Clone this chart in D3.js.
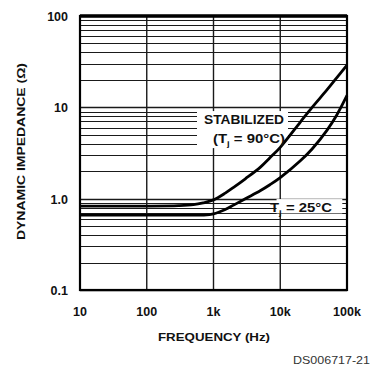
<!DOCTYPE html>
<html>
<head>
<meta charset="utf-8">
<script src="https://cdn.jsdelivr.net/npm/d3@7"></script>
<style>
  body { margin: 0; background: #fff; }
  svg { display: block; }
  text { font-family: 'Liberation Sans', Arial, Helvetica, sans-serif; }
</style>
</head>
<body>
<div id="chart"></div>
<script>
// values
const xTicks = [10, 100, 1000, 10000, 100000];
const xTickLabels = ['10', '100', '1k', '10k', '100k'];
const yTicks = [0.1, 1, 10, 100];
const yTickLabels = ['0.1', '1.0', '10', '100'];

const freq = [10, 100, 300, 500, 700, 1000, 1500, 2000, 3000, 5000, 7000, 10000, 20000, 30000, 50000, 70000, 100000];
const stabilized = [0.83, 0.83, 0.84, 0.86, 0.9, 0.97, 1.15, 1.33, 1.65, 2.2, 2.8, 3.65, 6.9, 10, 15.5, 21, 29];
const tj25 = [0.66, 0.66, 0.66, 0.66, 0.66, 0.68, 0.76, 0.85, 1.0, 1.22, 1.42, 1.7, 2.6, 3.5, 5.6, 8.2, 13.5];

const width = 371, height = 367;
const margin = {top: 16, right: 24, bottom: 77, left: 80};
const cWidth = width - margin.left - margin.right;
const cHeight = height - margin.top - margin.bottom;

const svg = d3.select('#chart').append('svg')
    .attr('width', width)
    .attr('height', height);

const g = svg.append('g').attr('transform', `translate(${margin.left},${margin.top})`);

const x = d3.scaleLog().domain([10, 100000]).range([0, cWidth]);
const y = d3.scaleLog().domain([0.1, 100]).range([cHeight, 0]);

// horizontal grid: 1..9 in every decade
let hLines = [];
[0.1, 1, 10].forEach(d => {
    for (let k = 1; k < 10; k++) hLines.push(+(d * k).toPrecision(3));
});

g.append('g')
    .selectAll('line')
    .data(hLines)
    .enter().append('line')
        .attr('x1', 0)
        .attr('x2', cWidth)
        .attr('y1', d => Math.round(y(d)) + 0.5)
        .attr('y2', d => Math.round(y(d)) + 0.5)
        .attr('stroke', '#1a1a1a')
        .attr('stroke-width', d => yTicks.includes(d) ? 1.6 : 1.2);

// vertical grid at decades
g.append('g')
    .selectAll('line')
    .data(xTicks.slice(1, -1))
    .enter().append('line')
        .attr('x1', d => x(d))
        .attr('x2', d => x(d))
        .attr('y1', 0)
        .attr('y2', cHeight)
        .attr('stroke', '#1a1a1a')
        .attr('stroke-width', 1.4);

// white patches behind the labels
g.append('rect')
    .attr('x', x(566)).attr('y', y(9.1))
    .attr('width', x(13070) - x(566)).attr('height', y(3.58) - y(9.1))
    .attr('fill', '#fff');
g.append('rect')
    .attr('x', x(8800)).attr('y', y(0.99))
    .attr('width', x(85000) - x(8800)).attr('height', y(0.69) - y(0.99))
    .attr('fill', '#fff');

// curves
const line = d3.line()
    .x((d, i) => x(freq[i]))
    .y(d => y(d))
    .curve(d3.curveCatmullRom.alpha(0.5));

[stabilized, tj25].forEach(s => {
    g.append('path')
        .datum(s)
        .attr('d', line)
        .attr('fill', 'none')
        .attr('stroke', '#000')
        .attr('stroke-width', 2.8);
});

// frame
g.append('rect')
    .attr('x', 0).attr('y', 0)
    .attr('width', cWidth).attr('height', cHeight)
    .attr('fill', 'none')
    .attr('stroke', '#000')
    .attr('stroke-width', 2.2);
g.append('line')
    .attr('x1', 0).attr('x2', cWidth)
    .attr('y1', 0).attr('y2', 0)
    .attr('stroke', '#000')
    .attr('stroke-width', 3.4);

// curve labels
const lab = svg.append('g')
    .attr('font-weight', 'bold')
    .attr('font-size', 12.5)
    .attr('fill', '#111');
lab.append('text')
    .attr('x', 204).attr('y', 124)
    .attr('textLength', 80)
    .attr('lengthAdjust', 'spacingAndGlyphs')
    .text('STABILIZED');
const t90 = lab.append('text')
    .attr('x', 213).attr('y', 143)
    .attr('textLength', 72)
    .attr('lengthAdjust', 'spacingAndGlyphs');
t90.append('tspan').text('(T');
t90.append('tspan').attr('font-size', 8).attr('dy', 3).text('j');
t90.append('tspan').attr('dy', -3).text(' = 90°C)');
const t25 = lab.append('text')
    .attr('x', 270).attr('y', 212)
    .attr('textLength', 62)
    .attr('lengthAdjust', 'spacingAndGlyphs');
t25.append('tspan').text('T');
t25.append('tspan').attr('font-size', 8).attr('dy', 3).text('j');
t25.append('tspan').attr('dy', -3).text(' = 25°C');

// tick labels
const tl = svg.append('g')
    .attr('font-weight', 'bold')
    .attr('font-size', 12.5)
    .attr('fill', '#111');
tl.selectAll('.xt')
    .data(xTicks)
    .enter().append('text')
        .attr('class', 'xt')
        .attr('x', d => margin.left + x(d))
        .attr('y', margin.top + cHeight + 26)
        .attr('text-anchor', 'middle')
        .text((d, i) => xTickLabels[i]);
tl.selectAll('.yt')
    .data(yTicks)
    .enter().append('text')
        .attr('class', 'yt')
        .attr('x', margin.left - 12)
        .attr('y', d => margin.top + y(d) + 5)
        .attr('text-anchor', 'end')
        .text((d, i) => yTickLabels[i]);

// axis titles
svg.append('text')
    .attr('x', 158)
    .attr('y', 341)
    .attr('textLength', 112)
    .attr('lengthAdjust', 'spacingAndGlyphs')
    .attr('font-weight', 'bold')
    .attr('font-size', 11.5)
    .attr('fill', '#111')
    .text('FREQUENCY (Hz)');
svg.append('text')
    .attr('transform', 'translate(25,240) rotate(-90)')
    .attr('textLength', 177)
    .attr('lengthAdjust', 'spacingAndGlyphs')
    .attr('font-weight', 'bold')
    .attr('font-size', 11.5)
    .attr('fill', '#111')
    .text('DYNAMIC IMPEDANCE (Ω)');

svg.append('text')
    .attr('x', 293)
    .attr('y', 364)
    .attr('textLength', 77)
    .attr('lengthAdjust', 'spacingAndGlyphs')
    .attr('font-size', 11)
    .attr('fill', '#333')
    .text('DS006717-21');
</script>
</body>
</html>
